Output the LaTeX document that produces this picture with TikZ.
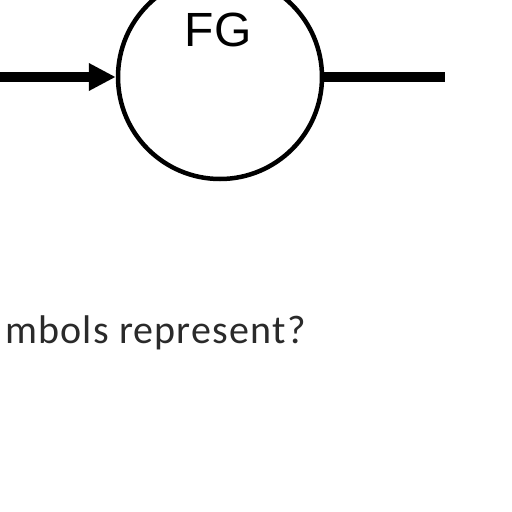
\documentclass[tikz,border=0pt]{standalone}
\usepackage{fontspec}
\setmainfont{Liberation Sans}
\newfontfamily\qfont[LetterSpace=3]{Carlito}
\usetikzlibrary{arrows.meta,positioning}
\definecolor{ink}{HTML}{000000}
\definecolor{qtext}{HTML}{2A2A2A}

\begin{document}
\begin{tikzpicture}[x=1pt,y=-1pt,
      block/.style={draw=ink,circle,line width=4.5pt,minimum size=204pt,inner sep=0pt},
      label/.style={font=\fontsize{48}{48}\selectfont,text=ink,inner sep=0pt},
      signal/.style={line width=10pt,draw=ink},
      question/.style={font=\qfont\fontsize{40}{40}\selectfont,text=qtext,inner sep=0pt}]
    \useasboundingbox (0,0) rectangle (512,512);
    \node[block] (fg) at (220,77) {};
    \node[label] (fgtext) at (218,30) {FG};
    \coordinate (in) at (0,77);
    \coordinate (out) at (445,77);
    \draw[signal,-{Triangle[length=27pt,width=26pt]}] (in) -- (fg.west);
    \draw[signal] (fg.east) -- (out);
    \node[question,anchor=base west] (ask) at (5,343) {mbols represent?};
    \end{tikzpicture}
\end{document}
